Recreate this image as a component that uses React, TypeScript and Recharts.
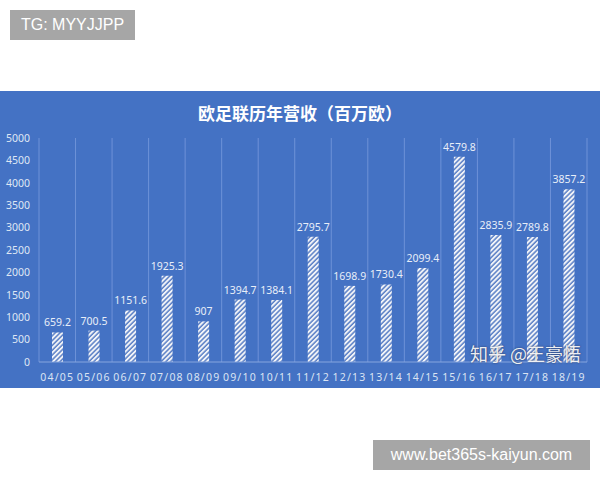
import { BarChart, Bar, XAxis, YAxis, CartesianGrid, LabelList } from "recharts";

const seasons = [
  "04/05", "05/06", "06/07", "07/08", "08/09", "09/10", "10/11", "11/12",
  "12/13", "13/14", "14/15", "15/16", "16/17", "17/18", "18/19",
];
const revenue = [
  659.2, 700.5, 1151.6, 1925.3, 907, 1394.7, 1384.1, 2795.7,
  1698.9, 1730.4, 2099.4, 4579.8, 2835.9, 2789.8, 3857.2,
];
const yTicks = [0, 500, 1000, 1500, 2000, 2500, 3000, 3500, 4000, 4500, 5000];
const title = "欧足联历年营收（百万欧）";

const data = seasons.map((season, i) => ({ season, value: revenue[i] }));

const PANEL = "#4472c4";
const FONT = "'Noto Sans', 'Noto Sans CJK SC', sans-serif";

const tagBox: React.CSSProperties = {
  position: "absolute",
  background: "#a6a6a6",
  color: "#ffffff",
  fontFamily: "'Liberation Sans', Arial, sans-serif",
  fontSize: 16,
  display: "flex",
  alignItems: "center",
  justifyContent: "center",
};

export default function App() {
  return (
    <div
      style={{
        position: "absolute",
        left: 0,
        top: 0,
        width: 600,
        height: 480,
        background: "#ffffff",
        overflow: "hidden",
      }}
    >
      <div style={{ ...tagBox, left: 10, top: 10, width: 125, height: 30 }}>
        TG: MYYJJPP
      </div>

      <div
        style={{
          position: "absolute",
          left: 0,
          top: 91,
          width: 600,
          height: 297,
          background: PANEL,
        }}
      >
        <div
          style={{
            position: "absolute",
            left: 0,
            top: 9,
            width: 600,
            textAlign: "center",
            color: "#ffffff",
            fontFamily: "'Noto Sans CJK SC', sans-serif",
            fontWeight: 700,
            fontSize: 17,
          }}
        >
          {title}
        </div>

        <BarChart
          width={600}
          height={297}
          data={data}
          barSize={11}
          margin={{ top: 47, right: 13, left: 0, bottom: 0 }}
        >
          <defs>
            <pattern
              id="hatch"
              patternUnits="userSpaceOnUse"
              width={3.4}
              height={3.4}
              patternTransform="rotate(45)"
            >
              <rect width={3.4} height={3.4} fill="#5b80c6" />
              <rect width={1.9} height={3.4} fill="#f2f4f8" />
            </pattern>
          </defs>
          <CartesianGrid
            horizontal={false}
            stroke="#6e92d8"
            strokeWidth={1}
            verticalCoordinatesGenerator={({ offset }: any) =>
              seasons
                .concat([""])
                .map((_, i) => offset.left + (i * offset.width) / seasons.length)
            }
          />
          <XAxis
            dataKey="season"
            height={26}
            axisLine={{ stroke: "#86a5de" }}
            tickLine={false}
            tickMargin={6}
            interval={0}
            tick={{
              fontSize: 10.5,
              fill: "#dbe4f3",
              fontFamily: FONT,
              letterSpacing: 1.2,
            }}
          />
          <YAxis
            width={39}
            domain={[0, 5000]}
            ticks={yTicks}
            axisLine={false}
            tickLine={false}
            tickSize={0}
            tickMargin={9}
            tick={{ fontSize: 10.5, fill: "#dfe7f4", fontFamily: FONT }}
          />
          <Bar dataKey="value" fill="url(#hatch)" isAnimationActive={false}>
            <LabelList
              dataKey="value"
              position="top"
              offset={6}
              fill="#e8eef8"
              fontSize={10.5}
              fontFamily={FONT}
            />
          </Bar>
        </BarChart>

        <div
          style={{
            position: "absolute",
            left: 470,
            top: 252,
            lineHeight: "20px",
            color: "rgba(255,255,255,0.92)",
            fontFamily: "'Noto Sans CJK SC', sans-serif",
            fontSize: 18,
            textShadow: "0 0 2px rgba(40,40,60,0.8)",
            whiteSpace: "nowrap",
          }}
        >
          知乎 @王豪悟
        </div>
      </div>

      <div style={{ ...tagBox, left: 373, top: 440, width: 217, height: 30 }}>
        www.bet365s-kaiyun.com
      </div>
    </div>
  );
}
